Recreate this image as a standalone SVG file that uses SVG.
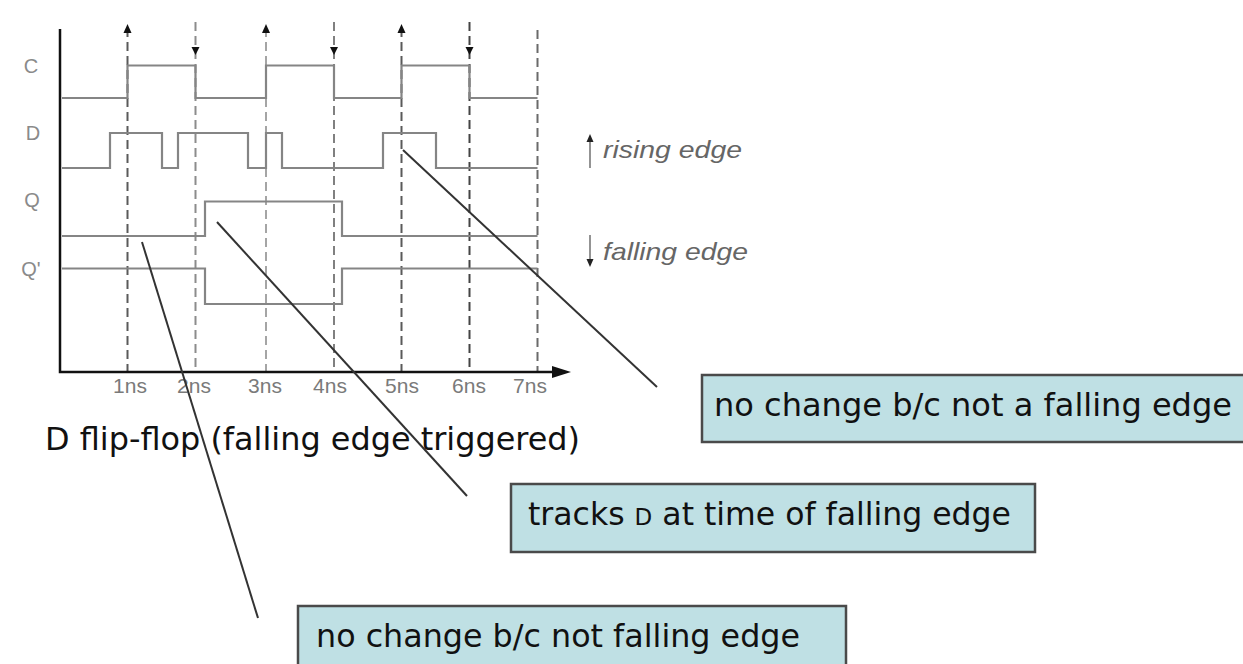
<svg xmlns="http://www.w3.org/2000/svg" width="1243" height="664" viewBox="0 0 1243 664">
<defs>
<style>
.sig{fill:none;stroke:#858585;stroke-width:2.2}
.dash{fill:none;stroke:#5a5a5a;stroke-width:2;stroke-dasharray:9 5}
.lbl{font-family:"Liberation Sans",Arial,sans-serif;font-size:20px;fill:#8a8a8a;text-anchor:middle}
.tick{font-family:"Liberation Sans",Arial,sans-serif;font-size:21px;fill:#7a7a7a;text-anchor:middle}
.leg{font-family:"Liberation Sans",Arial,sans-serif;font-size:24px;font-style:italic;fill:#666}
.box{fill:#bfe0e4;stroke:#4a4a4a;stroke-width:2.5}
.btxt{font-family:"DejaVu Sans",Verdana,sans-serif;font-size:31.5px;fill:#111}
.call{fill:none;stroke:#333;stroke-width:2}
.mk{fill:#111}
</style>
</defs>
<rect width="1243" height="664" fill="#ffffff"/>

<g id="timing">
<!-- dashed edge lines -->
<path class="dash" d="M127.5,28 V372"/>
<path class="dash" d="M195.5,22 V372" style="stroke:#8c8c8c"/>
<path class="dash" d="M266,28 V372" style="stroke:#a5a5a5"/>
<path class="dash" d="M334,22 V372" style="stroke:#808080"/>
<path class="dash" d="M401.5,28 V372"/>
<path class="dash" d="M469.5,22 V372" style="stroke:#444"/>
<path class="dash" d="M537.5,30 V372" style="stroke:#6a6a6a"/>
<!-- rising edge markers (up) -->
<polygon class="mk" points="127.5,24 123.5,33 131.5,33"/>
<polygon class="mk" points="266,24 262,33 270,33"/>
<polygon class="mk" points="401.5,24 397.5,33 405.5,33"/>
<!-- falling edge markers (down) -->
<polygon class="mk" points="195.5,55 191.5,47 199.5,47"/>
<polygon class="mk" points="334,55 330,47 338,47"/>
<polygon class="mk" points="469.5,55 465.5,47 473.5,47"/>

<!-- signals -->
<path class="sig" d="M62,98 H127.5 V65.5 H195.5 V98 H266 V65.5 H334 V98 H401.5 V65.5 H469.5 V98 H537.5"/>
<path class="sig" d="M62,168 H110 V133 H162 V168 H178 V133 H248 V168 H266 V133 H282 V168 H383 V133 H436 V168 H537.5"/>
<path class="sig" d="M62,236 H205 V201.5 H342 V236 H537.5"/>
<path class="sig" d="M62,268.5 H205 V304 H342 V268.5 H537.5"/>

<!-- axes -->
<path d="M60,29 V372 H556" fill="none" stroke="#111" stroke-width="2.5"/>
<polygon points="571,372 552,366 552,378" fill="#111"/>

<!-- signal labels -->
<text class="lbl" x="31" y="73">C</text>
<text class="lbl" x="33" y="140">D</text>
<text class="lbl" x="32" y="207">Q</text>
<text class="lbl" x="31" y="276">Q'</text>

<!-- tick labels -->
<text class="tick" x="130" y="393">1ns</text>
<text class="tick" x="194" y="393">2ns</text>
<text class="tick" x="265" y="393">3ns</text>
<text class="tick" x="330" y="393">4ns</text>
<text class="tick" x="402" y="393">5ns</text>
<text class="tick" x="469" y="393">6ns</text>
<text class="tick" x="530" y="393">7ns</text>
</g>

<g id="legend">
<path d="M590,168 V140" stroke="#888" stroke-width="1.8"/>
<polygon points="590,134 586.5,142 593.5,142" fill="#222"/>
<text class="leg" x="603" y="158" textLength="139" lengthAdjust="spacingAndGlyphs">rising edge</text>
<path d="M590,235 V261" stroke="#888" stroke-width="1.8"/>
<polygon points="590,267 586.5,259 593.5,259" fill="#222"/>
<text class="leg" x="603" y="260" textLength="145" lengthAdjust="spacingAndGlyphs">falling edge</text>
</g>

<g id="title">
<text class="btxt" x="45" y="450" textLength="535" lengthAdjust="spacingAndGlyphs">D flip-flop (falling edge triggered)</text>
</g>

<g id="connectors">
<line class="call" x1="403" y1="150" x2="657" y2="387"/>
<line class="call" x1="217" y1="222" x2="467" y2="496"/>
<line class="call" x1="142" y1="242" x2="258" y2="618"/>
</g>

<g id="note-no-change-a">
<rect class="box" x="702" y="375" width="560" height="67"/>
<text class="btxt" x="714" y="416" textLength="518" lengthAdjust="spacingAndGlyphs">no change b/c not a falling edge</text>
</g>

<g id="note-tracks">
<rect class="box" x="511" y="484" width="524" height="68"/>
<text class="btxt" x="528" y="525">tracks <tspan font-size="23px">D</tspan> at time of falling edge</text>
</g>

<g id="note-no-change-b">
<rect class="box" x="298" y="606" width="548" height="70"/>
<text class="btxt" x="316" y="647" textLength="484" lengthAdjust="spacingAndGlyphs">no change b/c not falling edge</text>
</g>
</svg>
